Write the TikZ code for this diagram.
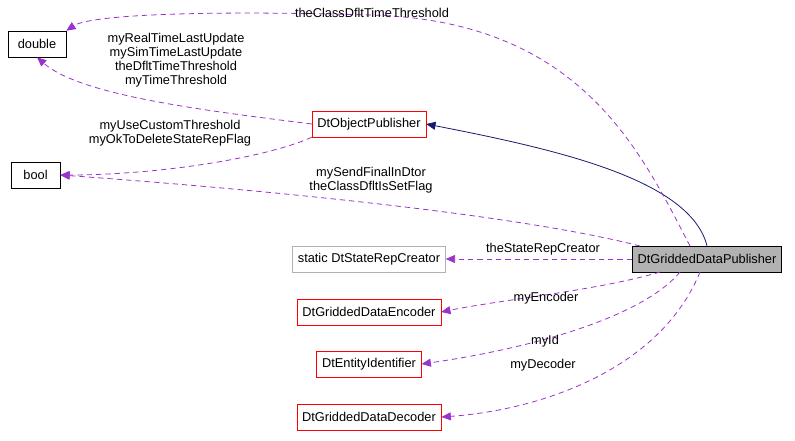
\documentclass[tikz,border=0pt]{standalone}
\usepackage{fontspec}
\setmainfont{Liberation Sans}
\usetikzlibrary{arrows.meta}
\usetikzlibrary{calc}
\definecolor{usecol}{HTML}{9A32CD}
\definecolor{inhcol}{HTML}{191970}

\begin{document}
\begin{tikzpicture}[x=0.75pt, y=-0.75pt, font=\fontsize{9.6}{10.4}\selectfont,
        node_style/.style={draw=red,fill=white,minimum height=19.5pt,inner xsep=4pt},
        plain_node_style/.style={draw=black,fill=white,minimum height=19.5pt,inner xsep=4pt},
        ext_node_style/.style={draw=black!30,fill=white,minimum height=19.5pt,inner xsep=4pt},
        main_node_style/.style={draw=black,fill=black!30,minimum height=19.5pt,inner xsep=4pt},
        edge_style/.style={draw=usecol, line width=0.6pt, dash pattern=on 4pt off 3pt, -{Triangle[length=7pt,width=6pt]}},
        inh_edge_style/.style={draw=inhcol, line width=0.6pt, -{Triangle[length=7pt,width=6pt]}},
        label_style/.style={align=center, inner sep=1pt}]
        \useasboundingbox (0,0) rectangle (795,440);

        \node [plain_node_style,minimum width=43.5pt](n1) at (37,44) {double};

        \node [plain_node_style,minimum width=36.75pt](n2) at (35.5,175) {bool};

        \node [node_style](n3) at (369,124) {DtObjectPublisher};

        \node [ext_node_style](n4) at (369,259) {static DtStateRepCreator};

        \node [node_style](n5) at (369,312) {DtGriddedDataEncoder};

        \node [node_style](n6) at (369,364) {DtEntityIdentifier};

        \node [node_style](n7) at (369,417) {DtGriddedDataDecoder};

        \node [main_node_style](n8) at (707,259) {DtGriddedDataPublisher};

        \draw [inh_edge_style] (n8.north) .. controls (690,180) and (560,150) .. (n3.east);

        \draw [edge_style] (690,246) .. controls (640,150) and (580,20) .. (370,15) .. controls (200,10) and (90,15) .. (n1.north east);
        \node [label_style] (l1) at (372,13) {theClassDfltTimeThreshold};

        \draw [edge_style] (n3.west) .. controls (200,110) and (80,95) .. (n1.south);
        \node [label_style] (l2) at (176,60) {myRealTimeLastUpdate\\mySimTimeLastUpdate\\theDfltTimeThreshold\\myTimeThreshold};

        \draw [edge_style] (n3.south west) .. controls (260,160) and (150,175) .. (n2.east);
        \node [label_style] (l3) at (170,133) {myUseCustomThreshold\\myOkToDeleteStateRepFlag};

        \draw [edge_style] (640,246) .. controls (500,210) and (200,185) .. (n2.east);
        \node [label_style] (l4) at (371,180) {mySendFinalInDtor\\theClassDfltIsSetFlag};

        \draw [edge_style] (n8.west) -- (n4.east);
        \node [label_style] (l5) at (543,249) {theStateRepCreator};

        \draw [edge_style] (660,272) .. controls (600,290) and (500,300) .. (n5.east);
        \node [label_style] (l6) at (546,298) {myEncoder};

        \draw [edge_style] (680,272) .. controls (640,320) and (520,350) .. (n6.east);
        \node [label_style] (l7) at (545,341) {myId};

        \draw [edge_style] (700,272) .. controls (660,370) and (540,410) .. (n7.east);
        \node [label_style] (l8) at (543,365) {myDecoder};

        \end{tikzpicture}
\end{document}
